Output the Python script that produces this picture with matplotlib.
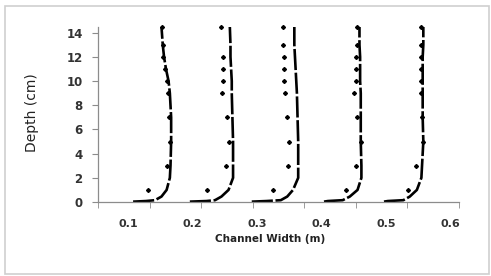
import numpy as np
import matplotlib
matplotlib.use("Agg")
import matplotlib.pyplot as plt
from matplotlib.patches import Rectangle

# measured points (markers) - depths in cm, widths in m
marker_depth = [14.5, 13, 12, 11, 10, 9, 7, 5, 3, 1]
marker_depth_2 = [14.5, 12, 11, 10, 9, 7, 5, 3, 1]
marker_w1 = [0.153, 0.154, 0.155, 0.157, 0.160, 0.162, 0.164, 0.165, 0.160, 0.131]
marker_w2 = [0.244, 0.247, 0.248, 0.247, 0.246, 0.253, 0.256, 0.252, 0.222]
marker_w3 = [0.341, 0.341, 0.342, 0.342, 0.342, 0.344, 0.347, 0.350, 0.348, 0.325]
marker_w4 = [0.455, 0.455, 0.454, 0.454, 0.453, 0.451, 0.455, 0.461, 0.454, 0.438]
marker_w5 = [0.555, 0.554, 0.555, 0.554, 0.554, 0.554, 0.556, 0.558, 0.546, 0.534]

# modelled profiles (dashed lines)
line_depth = [0.03, 0.08, 0.15, 0.45, 1, 2, 3, 5, 7, 9, 10, 11, 12, 13, 14.5]
line_w1 = [0.108, 0.128, 0.142, 0.152, 0.160, 0.165, 0.166, 0.167, 0.167, 0.165,
           0.163, 0.159, 0.156, 0.154, 0.152]
line_w2 = [0.196, 0.222, 0.235, 0.245, 0.256, 0.263, 0.263, 0.263, 0.262, 0.261,
           0.261, 0.260, 0.259, 0.259, 0.258]
line_w3 = [0.292, 0.315, 0.337, 0.347, 0.356, 0.364, 0.364, 0.364, 0.363, 0.362,
           0.361, 0.360, 0.359, 0.358, 0.358]
line_w4 = [0.404, 0.410, 0.433, 0.444, 0.456, 0.462, 0.462, 0.461, 0.461, 0.461,
           0.460, 0.460, 0.460, 0.459, 0.459]
line_w5 = [0.497, 0.503, 0.527, 0.537, 0.548, 0.555, 0.556, 0.558, 0.557, 0.557,
           0.557, 0.557, 0.557, 0.558, 0.558]

x_ticks = [0.1, 0.2, 0.3, 0.4, 0.5, 0.6]
y_ticks = [0, 2, 4, 6, 8, 10, 12, 14]

markers = [(marker_w1, marker_depth), (marker_w2, marker_depth_2),
           (marker_w3, marker_depth), (marker_w4, marker_depth),
           (marker_w5, marker_depth)]
lines = [line_w1, line_w2, line_w3, line_w4, line_w5]

fig = plt.figure(figsize=(4.91, 2.76), dpi=100)
ax = fig.add_axes([0.1996, 0.2681, 0.7352, 0.6352])

for w in lines:
    ax.plot(w, line_depth, color="black", lw=1.9, ls=(0, (8, 1)),
            solid_capstyle="butt", dash_capstyle="butt")
for w, d in markers:
    ax.plot(w, d, ls="none", marker="D", ms=2.0, color="black", clip_on=False)

ax.set_xlim(0.0536, 0.6133)
ax.set_ylim(0, 14.5)

axis_col = "#8c8c8c"
for s in ["top", "right"]:
    ax.spines[s].set_visible(False)
for s in ["left", "bottom"]:
    ax.spines[s].set_color(axis_col)
    ax.spines[s].set_linewidth(0.9)

ax.set_xticks(x_ticks)
ax.set_xticks(np.linspace(0.0536, 0.6133, 8), minor=True)
ax.set_yticks(y_ticks)
ax.tick_params(axis="x", which="major", length=0, pad=12, labelsize=8,
               labelcolor="#333333")
ax.tick_params(axis="x", which="minor", length=4, color=axis_col, direction="out")
ax.tick_params(axis="y", length=4, color=axis_col, pad=7, labelsize=8.5,
               labelcolor="#333333")
for lbl in ax.get_xticklabels() + ax.get_yticklabels():
    lbl.set_fontweight("bold")

fig.text(32 / 491, 1 - 113 / 276, "Depth (cm)", rotation=90, ha="center",
         va="center", fontsize=10, color="#222222")
fig.text(270 / 491, 1 - 239 / 276, "Channel Width (m)", ha="center",
         va="center", fontsize=7.5, fontweight="bold", color="#222222")

fig.patches.append(Rectangle((5 / 491, 2 / 276), 484 / 491, 268 / 276,
                             transform=fig.transFigure, fill=False,
                             edgecolor="#cfcfcf", lw=1.2))

fig.savefig("out.png", dpi=100)
